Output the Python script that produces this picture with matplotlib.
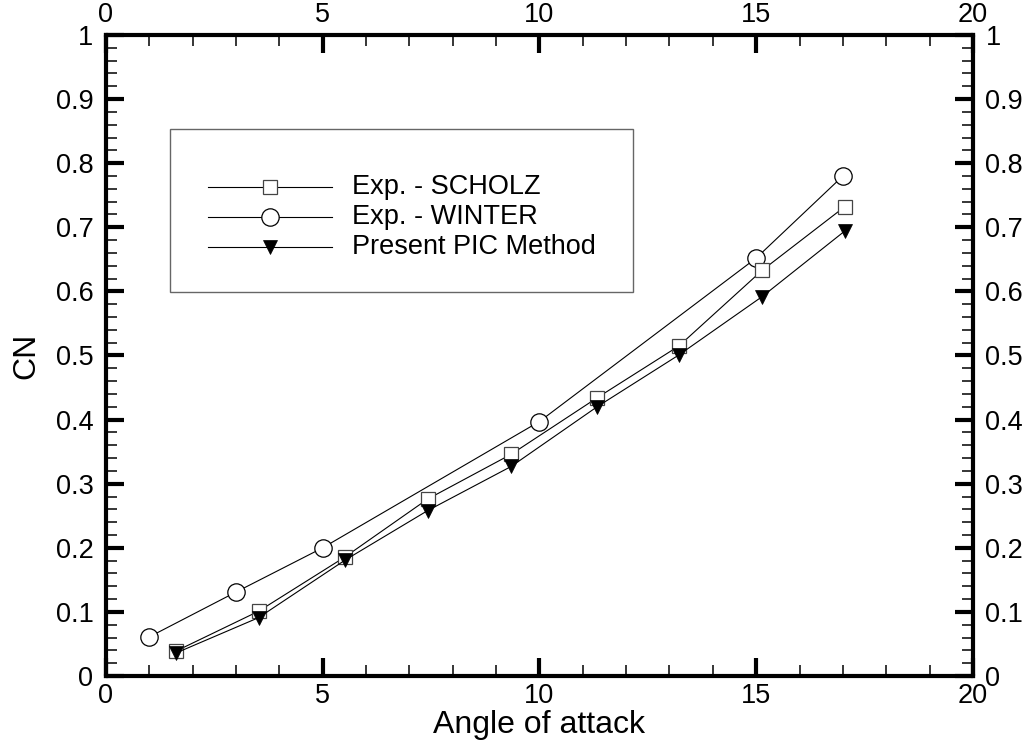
import matplotlib
matplotlib.use("Agg")
import matplotlib.pyplot as plt
from matplotlib.ticker import MultipleLocator, FuncFormatter
from matplotlib.patches import Rectangle
from matplotlib.lines import Line2D

plt.rcParams['font.family'] = ['Liberation Sans', 'DejaVu Sans']

# Data
winter_x = [1.0, 3.0, 5.0, 10.0, 15.0, 17.0]
winter_y = [0.061, 0.131, 0.200, 0.397, 0.652, 0.780]
scholz_x = [1.62, 3.52, 5.52, 7.42, 9.35, 11.33, 13.22, 15.14, 17.04]
scholz_y = [0.039, 0.101, 0.186, 0.276, 0.346, 0.434, 0.515, 0.633, 0.732]
pic_x = [1.62, 3.52, 5.52, 7.42, 9.35, 11.33, 13.22, 15.14, 17.04]
pic_y = [0.036, 0.091, 0.181, 0.258, 0.327, 0.420, 0.501, 0.592, 0.694]
labels = ["Exp. - SCHOLZ", "Exp. - WINTER", "Present PIC Method"]

fig = plt.figure(figsize=(10.29, 7.40), dpi=100)
ax = fig.add_axes([0.103, 0.0865, 0.8425, 0.8662])

lw = 0.8
ax.plot(winter_x, winter_y, color='black', lw=lw, marker='o', ms=12.5,
        mfc='white', mec='black', mew=0.9, zorder=3)
ax.plot(scholz_x, scholz_y, color='black', lw=lw, marker='s', ms=9.5,
        mfc='white', mec='#444444', mew=0.9, zorder=4)
ax.plot(pic_x, pic_y, color='black', lw=lw, marker='v', ms=10,
        mfc='black', mec='black', mew=0.5, zorder=5)

ax.set_xlim(0, 20)
ax.set_ylim(0, 1)
ax.xaxis.set_major_locator(MultipleLocator(5))
ax.xaxis.set_minor_locator(MultipleLocator(1))
ax.yaxis.set_major_locator(MultipleLocator(0.1))
ax.yaxis.set_minor_locator(MultipleLocator(0.02))
fmt = FuncFormatter(lambda v, p: "%g" % round(v, 3))
ax.xaxis.set_major_formatter(fmt)
ax.yaxis.set_major_formatter(fmt)

ax.tick_params(which='both', direction='in', top=True, right=True,
               labeltop=True, labelright=True, labelsize=19.5)
ax.tick_params(which='major', length=13, width=3)
ax.tick_params(which='minor', length=8, width=1.1)
ax.tick_params(axis='y', which='major', pad=9)
ax.tick_params(axis='x', which='major', pad=5)
for s in ax.spines.values():
    s.set_linewidth(3)

ax.set_xlabel("Angle of attack", fontsize=23, labelpad=1)
ax.set_ylabel("CN", fontsize=23, labelpad=10)

# Legend box
box = Rectangle((0.0738, 0.599), 0.6078 - 0.0738, 0.8534 - 0.599,
                transform=ax.transAxes, fill=False, edgecolor='#666666', lw=1.0, zorder=6)
ax.add_patch(box)
rows = [0.763, 0.716, 0.669]
styles = [dict(marker='s', ms=9.5, mfc='white', mec='#444444', mew=0.9),
          dict(marker='o', ms=12.5, mfc='white', mec='black', mew=0.9),
          dict(marker='v', ms=10, mfc='black', mec='black', mew=0.5)]
for yy, lab, st in zip(rows, labels, styles):
    ax.add_line(Line2D([0.1176, 0.2607], [yy, yy], transform=ax.transAxes,
                       color='black', lw=lw, zorder=7))
    ax.add_line(Line2D([0.189], [yy], transform=ax.transAxes, ls='none',
                       zorder=8, **st))
    ax.text(0.2837, yy, lab, transform=ax.transAxes, fontsize=19.5,
            va='center', ha='left', zorder=8)

fig.savefig("out.png", dpi=100)
